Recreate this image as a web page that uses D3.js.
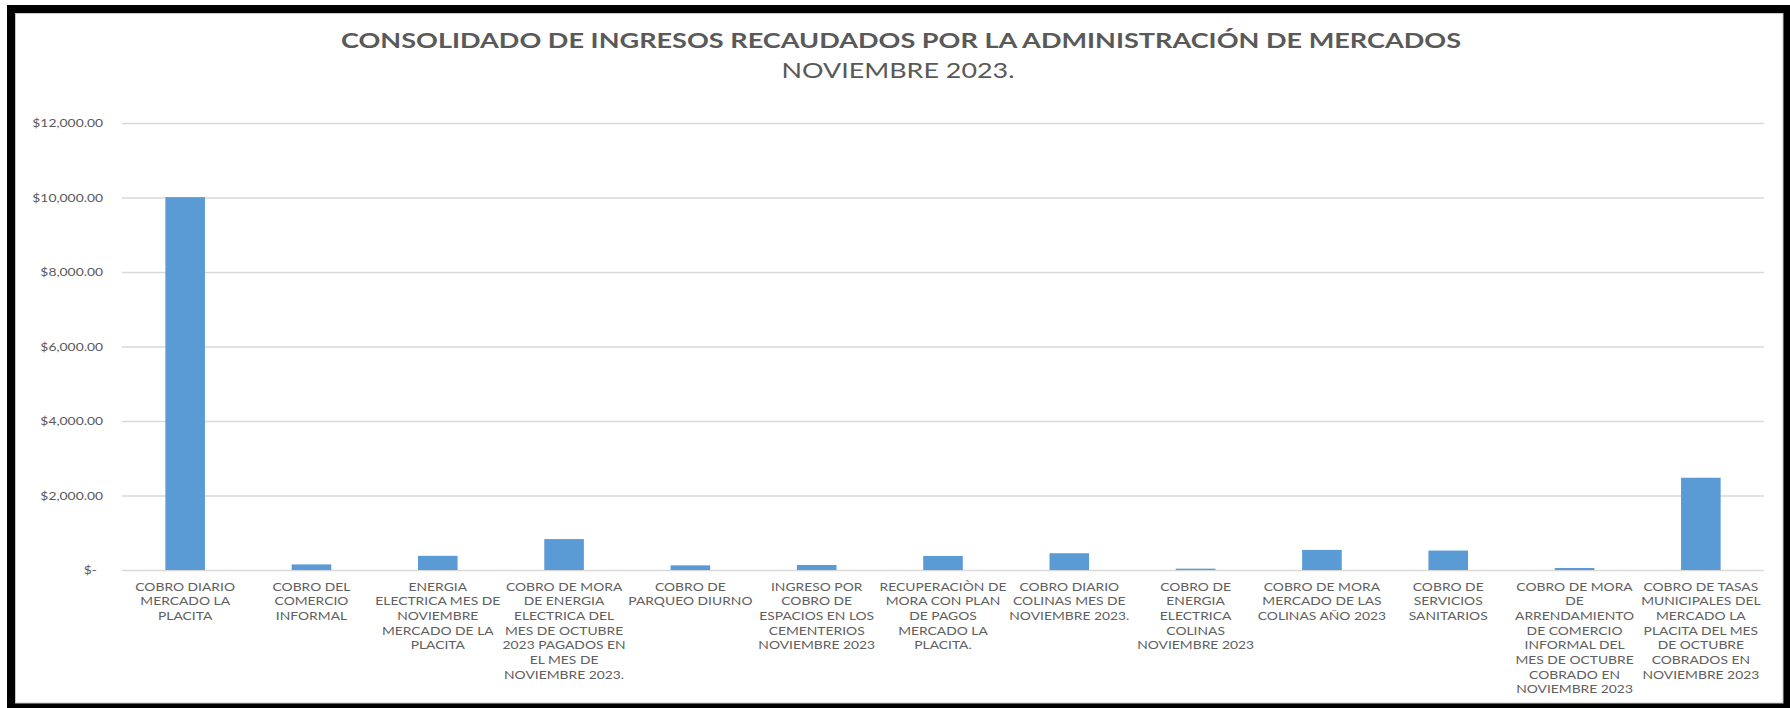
<!DOCTYPE html>
<html>
<head>
<meta charset="utf-8">
<script src="https://cdn.jsdelivr.net/npm/d3@7"></script>
<style>
  body { margin: 0; background: #fff; }
  svg text { font-family: Lato, "Open Sans", sans-serif; fill: #595959; }
</style>
</head>
<body>
<svg></svg>
<script>
const width = 1790;
const height = 708;

// data
const categories = [
    "COBRO DIARIO\nMERCADO LA\nPLACITA",
    "COBRO DEL\nCOMERCIO\nINFORMAL",
    "ENERGIA\nELECTRICA MES DE\nNOVIEMBRE\nMERCADO DE LA\nPLACITA",
    "COBRO DE MORA\nDE ENERGIA\nELECTRICA DEL\nMES DE OCTUBRE\n2023 PAGADOS EN\nEL MES DE\nNOVIEMBRE 2023.",
    "COBRO DE\nPARQUEO DIURNO",
    "INGRESO POR\nCOBRO DE\nESPACIOS EN LOS\nCEMENTERIOS\nNOVIEMBRE 2023",
    "RECUPERACIÒN DE\nMORA CON PLAN\nDE PAGOS\nMERCADO LA\nPLACITA.",
    "COBRO DIARIO\nCOLINAS MES DE\nNOVIEMBRE 2023.",
    "COBRO DE\nENERGIA\nELECTRICA\nCOLINAS\nNOVIEMBRE 2023",
    "COBRO DE MORA\nMERCADO DE LAS\nCOLINAS AÑO 2023",
    "COBRO DE\nSERVICIOS\nSANITARIOS",
    "COBRO DE MORA\nDE\nARRENDAMIENTO\nDE COMERCIO\nINFORMAL DEL\nMES DE OCTUBRE\nCOBRADO EN\nNOVIEMBRE 2023",
    "COBRO DE TASAS\nMUNICIPALES DEL\nMERCADO LA\nPLACITA DEL MES\nDE OCTUBRE\nCOBRADOS EN\nNOVIEMBRE 2023"
];
const values = [10010, 150, 380, 830, 125, 135, 378, 450, 36, 540, 522, 54, 2477];
const yTicks = [0, 2000, 4000, 6000, 8000, 10000, 12000];

const title = "CONSOLIDADO DE INGRESOS RECAUDADOS POR LA ADMINISTRACIÓN DE MERCADOS";
const subtitle = "NOVIEMBRE 2023.";

// the source picture is stretched sideways, so small text is too
const stretch = 1.26;

const margin = { top: 123, right: 26, bottom: 138, left: 122 };

const svg = d3.select("svg")
    .attr("width", width)
    .attr("height", height)
    .attr("viewBox", [0, 0, width, height]);

// black frame
svg.append("rect")
    .attr("x", 7).attr("y", 5)
    .attr("width", width - 7).attr("height", height - 5)
    .attr("fill", "#000");
svg.append("rect")
    .attr("x", 15.5).attr("y", 13.5)
    .attr("width", 1783 - 15.5).attr("height", 703 - 13.5)
    .attr("fill", "#fff")
    .attr("stroke", "#c8c8c8")
    .attr("stroke-width", 1);

const x = d3.scaleBand()
    .domain(d3.range(categories.length))
    .range([margin.left, width - margin.right])
    .paddingInner(0.6865)
    .paddingOuter(0.6865 / 2);

const y = d3.scaleLinear()
    .domain([0, 12000])
    .range([height - margin.bottom, margin.top]);

const money = d3.format("$,.2f");

// y axis with gridlines
const yAxis = svg.append("g")
    .attr("transform", `translate(${margin.left},0)`)
    .call(d3.axisLeft(y)
        .tickValues(yTicks)
        .tickSize(-(width - margin.right - margin.left))
        .tickFormat(d => d === 0 ? "$-" : money(d)));

yAxis.select(".domain").remove();
yAxis.selectAll(".tick line")
    .attr("stroke", "#d9d9d9")
    .attr("stroke-width", 1.5);
yAxis.selectAll(".tick text")
    .attr("x", 0)
    .attr("dy", "0.35em")
    .attr("font-size", 11)
    .attr("text-anchor", "end")
    .attr("transform", d => `translate(${d === 0 ? -25 : -19},0) scale(${stretch},1)`);

// bars
svg.append("g")
    .selectAll("rect")
    .data(values)
    .join("rect")
    .attr("x", (d, i) => x(i))
    .attr("y", d => y(d))
    .attr("width", x.bandwidth())
    .attr("height", d => y(0) - y(d))
    .attr("fill", "#5b9bd5");

// category labels
const labels = svg.append("g")
    .selectAll("text")
    .data(categories)
    .join("text")
    .attr("font-size", 11)
    .attr("text-anchor", "middle")
    .style("fill", "#606060")
    .attr("transform", (d, i) => `translate(${x(i) + x.bandwidth() / 2},${y(0) + 20.5}) scale(${stretch},1)`);

labels.selectAll("tspan")
    .data(d => d.split("\n"))
    .join("tspan")
    .attr("x", 0)
    .attr("y", (d, i) => i * 14.7)
    .text(d => d);

// titles
svg.append("text")
    .attr("x", 901)
    .attr("y", 48)
    .attr("text-anchor", "middle")
    .attr("font-size", 21)
    .attr("font-weight", "bold")
    .attr("textLength", 1120)
    .attr("lengthAdjust", "spacingAndGlyphs")
    .text(title);

svg.append("text")
    .attr("x", 898)
    .attr("y", 77.5)
    .attr("text-anchor", "middle")
    .attr("font-size", 21)
    .attr("textLength", 233)
    .attr("lengthAdjust", "spacingAndGlyphs")
    .text(subtitle);
</script>
</body>
</html>
